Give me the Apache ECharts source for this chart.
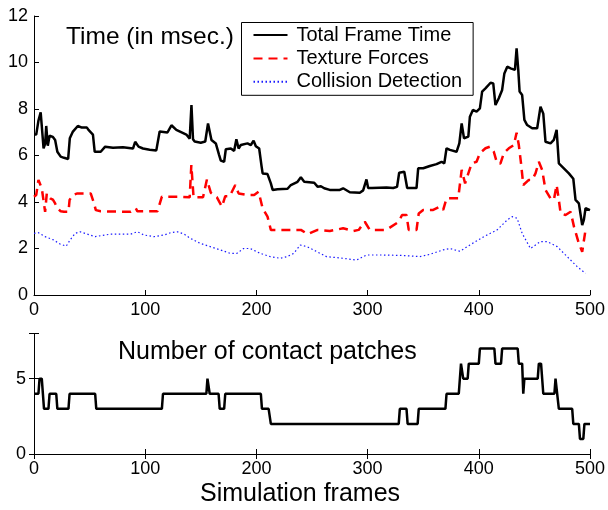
<!DOCTYPE html>
<html>
<head>
<meta charset="utf-8">
<script src="https://cdn.jsdelivr.net/npm/echarts@6/dist/echarts.min.js"></script>
<style>
  html, body { margin: 0; padding: 0; background: #fff; }
  #main { width: 608px; height: 510px; }
</style>
</head>
<body>
<div id="main"></div>
<script>
// frame times (msec)
const totalFrames = [0, 2, 4, 6, 8.6, 10, 11, 12.4, 14, 17, 19, 21, 24, 27, 30.7, 32.2, 35, 39.4, 43, 47.6, 49, 53, 54.6, 60, 64, 71, 80, 89, 91, 94, 98, 104, 110, 113, 120, 123.6, 128, 137, 140, 141.6, 143, 144.5, 150, 154, 156.5, 159.6, 163.5, 166.5, 168, 171, 172.5, 177, 180, 182, 184, 186, 192, 195, 197.5, 199.5, 202.5, 204.7, 205.6, 210, 213, 214.6, 219, 228, 231, 237, 240, 243, 252, 255, 258, 261, 266, 275, 278, 284, 293, 296, 299, 300.5, 304, 317, 318.5, 323, 326.5, 328.4, 333, 335.6, 344, 345.5, 350, 356, 362, 366.5, 369, 371, 374, 380, 382.5, 384.6, 386.7, 390.6, 392, 394.7, 398, 401, 403, 406, 410.6, 413, 415, 418, 421, 423, 425.6, 428.6, 432.5, 434, 435.5, 436.7, 439, 441, 443.5, 448, 452.5, 455.5, 458, 460, 464.5, 467.5, 470, 472, 476.5, 481, 485, 487, 490, 493, 494.5, 496, 500];
const totalTime = [6.9, 6.9, 7.5, 7.86, 6.31, 6.5, 7.27, 6.42, 6.85, 6.8, 6.67, 6.16, 5.95, 5.9, 5.85, 6.74, 7.03, 7.27, 7.2, 7.2, 7.1, 6.9, 6.16, 6.16, 6.38, 6.33, 6.35, 6.3, 6.59, 6.38, 6.3, 6.25, 6.22, 7.03, 6.99, 7.3, 7.1, 6.9, 6.72, 8.17, 6.7, 6.6, 6.55, 6.6, 7.38, 6.67, 6.52, 6.02, 5.78, 5.73, 6.27, 6.3, 6.2, 6.7, 6.3, 6.45, 6.52, 6.45, 6.64, 6.4, 6.3, 5.52, 5.23, 5.2, 4.8, 4.52, 4.55, 4.57, 4.73, 4.87, 5.06, 4.87, 4.83, 4.66, 4.68, 4.59, 4.52, 4.52, 4.59, 4.42, 4.4, 4.5, 4.97, 4.6, 4.6, 4.62, 4.68, 4.6, 4.65, 5.26, 5.3, 4.6, 4.6, 5.45, 5.45, 5.55, 5.63, 5.73, 5.66, 6.31, 6.24, 6.16, 6.52, 7.38, 6.74, 6.81, 7.67, 7.96, 7.89, 8.03, 8.75, 8.89, 9.13, 9.1, 8.17, 8.46, 8.82, 9.53, 9.82, 9.75, 9.68, 10.61, 9.68, 8.75, 8.6, 7.53, 7.31, 7.17, 7.17, 8.1, 7.8, 6.59, 6.52, 6.67, 7.1, 5.66, 5.45, 5.23, 5.0, 4.09, 3.94, 3.01, 3.23, 3.73, 3.65];

const textureFrames = [0, 2, 4, 7, 10, 11.5, 14.5, 17, 19, 21, 24, 27, 31, 32, 35, 39, 51, 54, 55.6, 60, 87, 91.5, 93, 111, 115, 129, 140, 141.5, 143.5, 152, 155.5, 159, 164.5, 169, 172, 176, 181, 184, 192, 198, 202, 205.6, 210, 213, 240, 246, 255, 266, 278, 287, 292, 297.5, 302, 316, 319, 328, 331, 335, 337, 344, 346, 350, 359, 365, 368, 371, 377, 381.5, 384.6, 387.7, 390.6, 393.6, 398, 401, 406, 410, 413.5, 416.5, 419.5, 422.5, 427, 431.5, 434, 436, 438, 440, 445, 448, 451, 454, 457, 460, 464.5, 467.5, 470, 472, 473.6, 478, 482.6, 485.6, 490, 493, 494.5, 496];
const textureTime = [4.23, 4.3, 4.95, 4.59, 3.58, 4.37, 4.16, 4.1, 3.94, 3.73, 3.6, 3.58, 3.58, 4.09, 4.3, 4.37, 4.37, 3.94, 3.65, 3.6, 3.58, 3.73, 3.6, 3.6, 4.23, 4.23, 4.2, 5.59, 4.2, 4.2, 4.97, 4.4, 4.2, 3.8, 4.25, 4.25, 4.73, 4.37, 4.3, 4.3, 4.44, 3.73, 3.37, 2.8, 2.8, 2.62, 2.8, 2.75, 2.87, 2.75, 2.8, 3.15, 2.8, 2.8, 2.87, 3.15, 3.44, 3.44, 2.8, 2.8, 3.51, 3.66, 3.66, 3.8, 3.66, 4.16, 4.16, 4.16, 5.38, 4.8, 5.23, 5.66, 5.73, 6.1, 6.31, 6.38, 6.16, 5.66, 5.66, 6.1, 6.31, 6.45, 6.98, 6.45, 5.66, 4.73, 4.95, 4.95, 5.23, 5.73, 5.38, 4.52, 4.16, 4.09, 4.73, 4.09, 3.51, 3.44, 3.58, 2.94, 2.22, 1.86, 1.94, 2.8];

const collisionFrames = [0, 4, 10, 17.5, 23.5, 29, 32.5, 37, 41.5, 46, 50.5, 55, 60, 69, 87, 93, 99, 108, 117, 123, 129, 135, 140.5, 149.5, 158.5, 167.5, 176.5, 182.5, 188.5, 194.5, 203.5, 212.5, 221.5, 227.5, 233.5, 239.5, 245.5, 254.5, 263, 278, 290, 299, 314, 332, 347, 356, 368, 374, 383, 392, 404.5, 416.5, 425.6, 430, 434.5, 439, 446.5, 455.5, 461.5, 470.5, 479.5, 488.5, 496];
const collisionTime = [2.65, 2.68, 2.51, 2.37, 2.19, 2.1, 2.37, 2.65, 2.72, 2.65, 2.58, 2.51, 2.55, 2.62, 2.62, 2.72, 2.58, 2.51, 2.58, 2.68, 2.72, 2.62, 2.44, 2.22, 2.08, 1.94, 1.79, 1.79, 2.0, 2.0, 1.79, 1.65, 1.58, 1.65, 1.79, 2.15, 2.08, 1.86, 1.65, 1.58, 1.5, 1.72, 1.72, 1.7, 1.65, 1.75, 1.94, 2.0, 1.88, 2.15, 2.51, 2.8, 3.23, 3.37, 3.3, 2.65, 2.0, 2.3, 2.3, 2.08, 1.65, 1.22, 0.93];

// number of contact patches (step breakpoints)
const contactFrames = [0, 4, 5, 7, 9, 13, 14, 20, 21, 31, 32, 55, 56, 115, 116, 155, 156, 157, 158, 166, 167, 171, 172, 204, 205, 211, 213, 328, 329, 335, 336, 345, 346, 370, 371, 382, 384, 385, 386, 390, 391, 400, 401, 414, 415, 420, 421, 435, 436, 439, 440, 441, 453, 454, 456, 458, 468, 469, 470, 472, 484, 485, 490, 491, 494, 495, 500];
const contactCount = [4, 4, 5, 5, 3, 3, 4, 4, 3, 3, 4, 4, 3, 3, 4, 4, 5, 5, 4, 4, 3, 3, 4, 4, 3, 3, 2, 2, 3, 3, 2, 2, 3, 3, 4, 4, 6, 6, 5, 5, 6, 6, 7, 7, 6, 6, 7, 7, 6, 6, 4, 5, 5, 6, 6, 4, 4, 5, 5, 3, 3, 2, 2, 1, 1, 2, 2];

const xTicks = [0, 100, 200, 300, 400, 500];
const seriesNames = ['Total Frame Time', 'Texture Forces', 'Collision Detection'];

const zip = (xs, ys) => xs.map((x, i) => [x, ys[i]]);

const font = "'Liberation Sans', Arial, Helvetica, sans-serif";
const black = '#000';

const chart = echarts.init(document.getElementById('main'));

const baseX = {
  type: 'value',
  min: xTicks[0],
  max: xTicks[xTicks.length - 1],
  interval: 100,
  axisLine: { lineStyle: { color: black, width: 1 } },
  axisTick: { inside: true, length: 5, lineStyle: { color: black } },
  axisLabel: { color: black, fontSize: 18, fontFamily: font, margin: 6 },
  splitLine: { show: false },
}

chart.setOption({
  animation: false,
  backgroundColor: '#fff',
  grid: [
    { left: 34, right: 18, top: 16, height: 279 },
    { left: 34, right: 18, top: 333.5, height: 120.5 },
  ],
  xAxis: [
    { ...baseX, gridIndex: 0 },
    { ...baseX, gridIndex: 1 },
    { ...baseX, gridIndex: 1, position: 'top', axisLabel: { show: false } },
  ],
  yAxis: [
    {
      type: 'value', gridIndex: 0, min: 0, max: 12, interval: 2,
      axisLine: { show: true, lineStyle: { color: black, width: 1 } },
      axisTick: { show: true, inside: true, length: 5, lineStyle: { color: black } },
      axisLabel: { color: black, fontSize: 18, fontFamily: font, margin: 6 },
      splitLine: { show: false },
    },
    {
      type: 'value', gridIndex: 1, min: 0, max: 8, interval: 5,
      axisLine: { show: true, lineStyle: { color: black, width: 1 } },
      axisTick: { show: true, inside: true, length: 5, lineStyle: { color: black } },
      axisLabel: {
        color: black, fontSize: 18, fontFamily: font, margin: 8,
        formatter: v => (v % 5 === 0 ? String(v) : ''),
      },
      splitLine: { show: false },
    },
    {
      type: 'value', gridIndex: 1, min: 0, max: 8, interval: 5, position: 'right',
      axisLine: { show: true, lineStyle: { color: black, width: 1 } },
      axisTick: { show: true, inside: true, length: 5, lineStyle: { color: black } },
      axisLabel: { show: false },
      splitLine: { show: false },
    },
  ],
  legend: {
    data: seriesNames,
    orient: 'vertical',
    left: 241.5,
    top: 22.5,
    itemWidth: 34,
    itemHeight: 20,
    itemGap: 3.4,
    padding: [2.5, 11, 3.5, 11],
    borderColor: black,
    borderWidth: 1,
    selectedMode: false,
    itemStyle: { opacity: 0 },
    textStyle: { color: black, fontSize: 20, fontFamily: font, lineHeight: 20, padding: [0, 0, 0, 4] },
  },
  graphic: [
    {
      type: 'text', left: 66, top: 25,
      style: { text: 'Time (in msec.)', fontSize: 24.5, fontFamily: font, fill: black },
    },
    {
      type: 'text', left: 118, top: 340,
      style: { text: 'Number of contact patches', fontSize: 25, fontFamily: font, fill: black },
    },
    {
      type: 'text', left: 200, top: 482,
      style: { text: 'Simulation frames', fontSize: 25, fontFamily: font, fill: black },
    },
  ],
  series: [
    {
      name: seriesNames[0], type: 'line', xAxisIndex: 0, yAxisIndex: 0,
      data: zip(totalFrames, totalTime), symbol: 'none', showSymbol: false,
      lineStyle: { color: black, width: 2.5 }, itemStyle: { color: black },
    },
    {
      name: seriesNames[1], type: 'line', xAxisIndex: 0, yAxisIndex: 0,
      data: zip(textureFrames, textureTime), symbol: 'none', showSymbol: false,
      lineStyle: { color: '#ff0000', width: 2.5, type: [9, 6] }, itemStyle: { color: '#ff0000' },
    },
    {
      name: seriesNames[2], type: 'line', xAxisIndex: 0, yAxisIndex: 0,
      data: zip(collisionFrames, collisionTime), symbol: 'none', showSymbol: false,
      lineStyle: { color: '#1a1aff', width: 1.2, type: [1.5, 2.5] }, itemStyle: { color: '#1a1aff' },
    },
    {
      name: 'contacts', type: 'line', xAxisIndex: 1, yAxisIndex: 1,
      data: zip(contactFrames, contactCount), symbol: 'none', showSymbol: false,
      lineStyle: { color: black, width: 2.5 },
    },
  ],
})
</script>
</body>
</html>
